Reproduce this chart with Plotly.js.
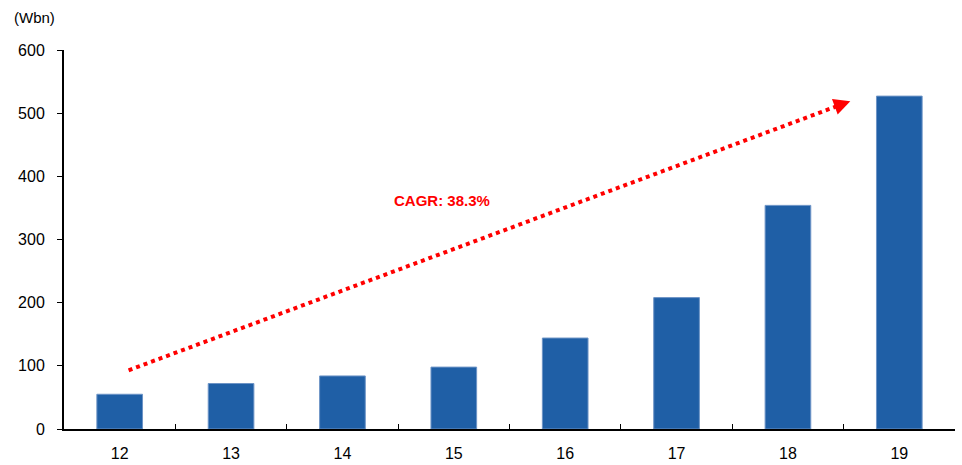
<!DOCTYPE html>
<html><head><meta charset="utf-8">
<script src="https://cdn.plot.ly/plotly-3.0.1.min.js"></script>
<style>html,body{margin:0;padding:0;background:#fff}</style>
</head><body>
<div id="chart" style="width:962px;height:465px"></div>
<script>
const categories = ["12","13","14","15","16","17","18","19"];
const values = [55, 72, 84, 98, 144, 208, 354, 527];
const yTicks = [0, 100, 200, 300, 400, 500, 600];
const arrowStart = [0.08, 93];
const arrowEnd = [6.56, 519];
const cagrLabel = "CAGR: 38.3%";
const cagrPos = [2.89, 361];
const unitLabel = "(Wbn)";

const font = "Liberation Sans, Arial, sans-serif";
const trace = {
  type: "bar", x: categories, y: values,
  marker: {color: "#1f5fa6", line: {color: "#6d94c6", width: 1}},
  width: 0.41, hoverinfo: "none"
};
const layout = {
  width: 962, height: 465,
  margin: {l: 64, r: 7, t: 50, b: 36},
  paper_bgcolor: "#fff", plot_bgcolor: "#fff",
  showlegend: false,
  font: {family: font, size: 14, color: "#000"},
  xaxis: {type: "category", range: [-0.5, 7.5], showline: true, linecolor: "#000", linewidth: 2,
    ticks: "inside", tickson: "boundaries", ticklen: 5, tickcolor: "#000", tickwidth: 1,
    ticklabelstandoff: 9,
    showgrid: false, zeroline: false, tickfont: {family: font, size: 16}},
  yaxis: {range: [0, 600], tickvals: yTicks, showline: true, linecolor: "#000", linewidth: 2,
    ticks: "outside", ticklen: 5, tickcolor: "#000", tickwidth: 1,
    ticklabelstandoff: 9,
    showgrid: false, zeroline: false, tickfont: {family: font, size: 16}},
  shapes: [{type: "line", xref: "x", yref: "y", x0: arrowStart[0], y0: arrowStart[1],
    x1: arrowEnd[0] - 0.05, y1: arrowEnd[1] - 3.4, line: {color: "#ff0000", width: 4, dash: "dot"}}],
  annotations: [
    {x: arrowEnd[0], y: arrowEnd[1], xref: "x", yref: "y", ax: -6, ay: 2.2, text: "",
     showarrow: true, arrowhead: 2, arrowsize: 1.1, arrowwidth: 3, arrowcolor: "#ff0000", standoff: 0},
    {x: cagrPos[0], y: cagrPos[1], xref: "x", yref: "y", text: "<b>" + cagrLabel + "</b>", showarrow: false,
     font: {family: font, size: 15, color: "#ff0000"}},
    {x: (12 - 64) / 891, y: (429 - 17) / 379, xref: "paper", yref: "paper", text: unitLabel, showarrow: false,
     xanchor: "left", yanchor: "middle", font: {family: font, size: 15}}
  ]
};
Plotly.newPlot("chart", [trace], layout, {displayModeBar: false, staticPlot: true});
</script>
</body></html>
